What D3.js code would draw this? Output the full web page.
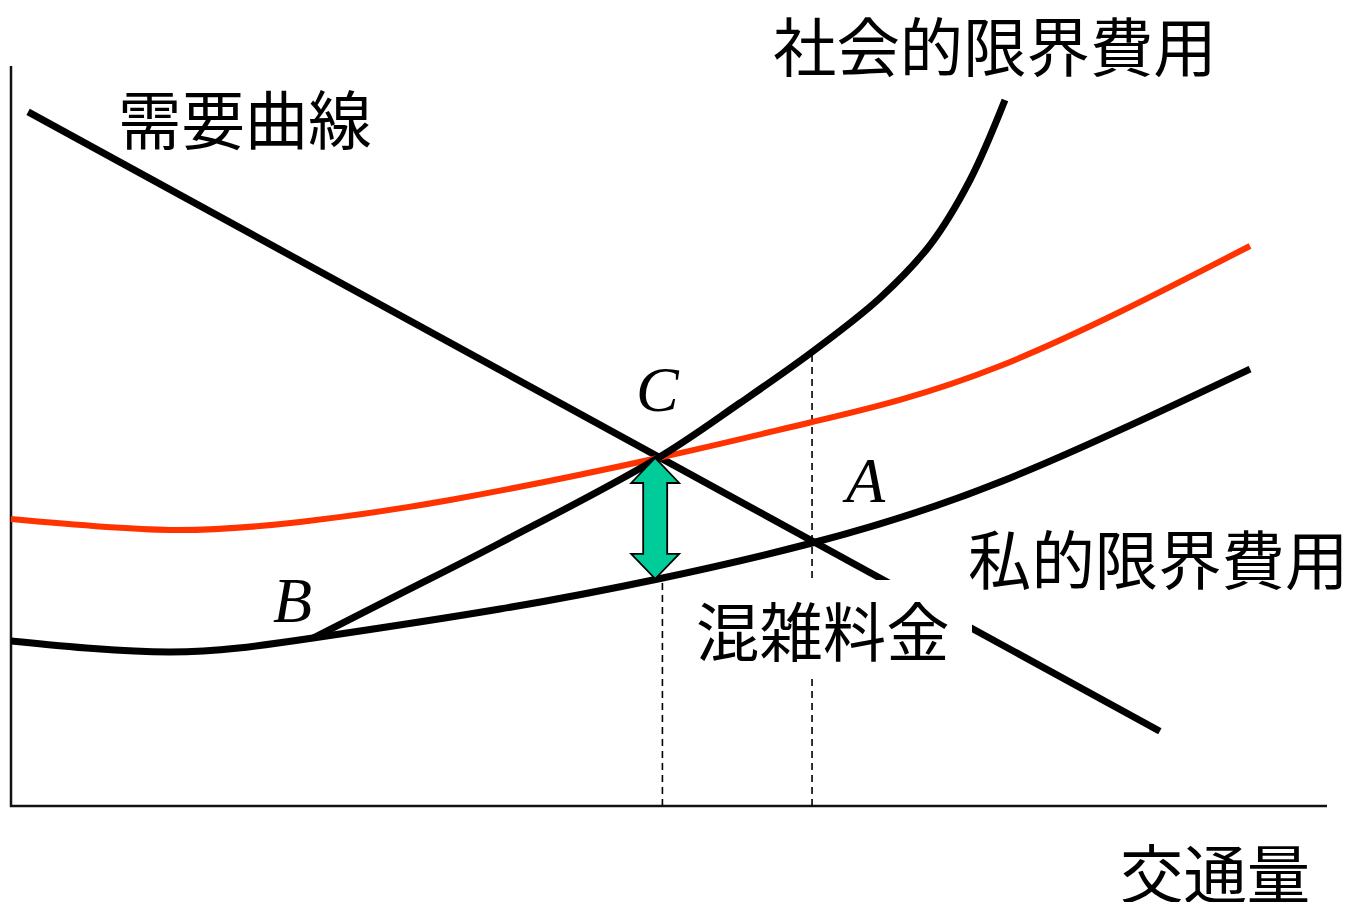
<!DOCTYPE html>
<html>
<head>
<meta charset="utf-8">
<script src="https://cdn.jsdelivr.net/npm/d3@7"></script>
<style>
  body { margin: 0; background: #fff; }
  svg { display: block; }
</style>
</head>
<body>
<svg id="chart"></svg>
<script>
// quantity (0-100) / price (0-100)
const demandQ = [1.3, 87.3];
const demandP = [93.8, 10.1];

const privateQ = [0, 12.08, 22.95, 37.16, 49.16, 60.87, 75.15, 94.15];
const privateP = [22.3, 20.81, 22.7, 26.62, 30.68, 35.54, 43.78, 59.05];

const redQ = [0, 12.08, 21.96, 33.36, 49.16, 60.87, 75.15, 94.15];
const redP = [38.78, 37.3, 38.38, 41.35, 47.03, 51.89, 59.46, 75.68];

const socialQ = [22.95, 29.56, 37.16, 49.16, 55.39, 60.87, 66.03, 69.83, 72.87, 75.53];
const socialP = [22.7, 28.65, 35.54, 47.03, 54.46, 61.35, 68.65, 75.81, 84.59, 95.41];

// dashed guides: quantity and height where they stop
const guideQ = [49.5, 60.87];
const guideP = [30.6, 61.35];

// toll arrow between C and the private cost curve
const arrowQ = 48.95;
const arrowP = [47.03, 30.7];

(function () {
const width = 1350, height = 902;
const svg = d3.select('#chart').attr('width', width).attr('height', height);

const x = d3.scaleLinear().domain([0, 100]).range([11, 1327]);
const y = d3.scaleLinear().domain([0, 100]).range([806, 66]);

const zip = (a, b) => a.map((d, i) => [d, b[i]]);
const smooth = d3.line()
  .x(d => x(d[0]))
  .y(d => y(d[1]))
  .curve(d3.curveNatural);
const line = d3.line()
  .x(d => x(d[0]))
  .y(d => y(d[1]))
  .curve(d3.curveCatmullRom.alpha(0.5));

// axes (plain lines, no ticks)
svg.append('path')
  .attr('d', `M${x(0)},${y(100)}V${y(0)}H${x(100)}`)
  .attr('fill', 'none')
  .attr('stroke', '#111')
  .attr('stroke-width', 2.5);

// dashed guides
svg.selectAll('.guide')
  .data(zip(guideQ, guideP))
  .enter()
  .append('line')
  .attr('class', 'guide')
  .attr('x1', d => x(d[0]))
  .attr('x2', d => x(d[0]))
  .attr('y1', y(0))
  .attr('y2', d => y(d[1]))
  .attr('stroke', '#000')
  .attr('stroke-width', 1.6)
  .attr('stroke-dasharray', '7,5');

svg.append('path')
  .attr('d', line(zip(demandQ, demandP)))
  .attr('fill', 'none').attr('stroke', '#000').attr('stroke-width', 7);

svg.append('path')
  .attr('d', smooth(zip(redQ, redP)))
  .attr('fill', 'none').attr('stroke', '#ff3300').attr('stroke-width', 6);

svg.append('path')
  .attr('d', smooth(zip(privateQ, privateP)))
  .attr('fill', 'none').attr('stroke', '#000').attr('stroke-width', 7);

svg.append('path')
  .attr('d', line(zip(socialQ, socialP)))
  .attr('fill', 'none').attr('stroke', '#000').attr('stroke-width', 7);

// white box behind the toll label hides demand line + guide
svg.append('rect')
  .attr('x', 690).attr('y', 580)
  .attr('width', 282).attr('height', 97)
  .attr('fill', '#fff');

// labels
const jp = '"Noto Sans CJK JP", "Noto Sans CJK SC", sans-serif';
const labels = [
  { t: '需要曲線', x: 118, y: 116 },
  { t: '社会的限界費用', x: 773, y: 43 },
  { t: '私的限界費用', x: 968, y: 556 },
  { t: '混雑料金', x: 696, y: 628 },
  { t: '交通量', x: 1120, y: 870 }
];
svg.selectAll('.jp')
  .data(labels)
  .enter()
  .append('text')
  .attr('class', 'jp')
  .attr('x', d => d.x)
  .attr('y', d => d.y)
  .attr('dominant-baseline', 'central')
  .style('font-family', jp)
  .style('font-size', '63.4px')
  .attr('fill', '#000')
  .text(d => d.t);

const letters = [
  { t: 'C', x: 636, y: 411 },
  { t: 'A', x: 846, y: 502 },
  { t: 'B', x: 273, y: 622 }
];
svg.selectAll('.pt')
  .data(letters)
  .enter()
  .append('text')
  .attr('class', 'pt')
  .attr('x', d => d.x)
  .attr('y', d => d.y)
  .style('font-family', '"Liberation Serif", "Times New Roman", serif')
  .style('font-style', 'italic')
  .style('font-size', '64px')
  .attr('fill', '#000')
  .text(d => d.t);

// double arrow
const ax = x(arrowQ), yTop = y(arrowP[0]), yBot = y(arrowP[1]);
const hw = 24, sw = 12, hl = 25;
const arrow = [
  [ax, yTop], [ax + hw, yTop + hl], [ax + sw, yTop + hl], [ax + sw, yBot - hl],
  [ax + hw, yBot - hl], [ax, yBot], [ax - hw, yBot - hl], [ax - sw, yBot - hl],
  [ax - sw, yTop + hl], [ax - hw, yTop + hl]
];
svg.append('path')
  .attr('d', 'M' + arrow.join('L') + 'Z')
  .attr('fill', '#00cc99')
  .attr('stroke', '#000')
  .attr('stroke-width', 1.8)
  .attr('stroke-linejoin', 'miter');
})();
</script>
</body>
</html>
